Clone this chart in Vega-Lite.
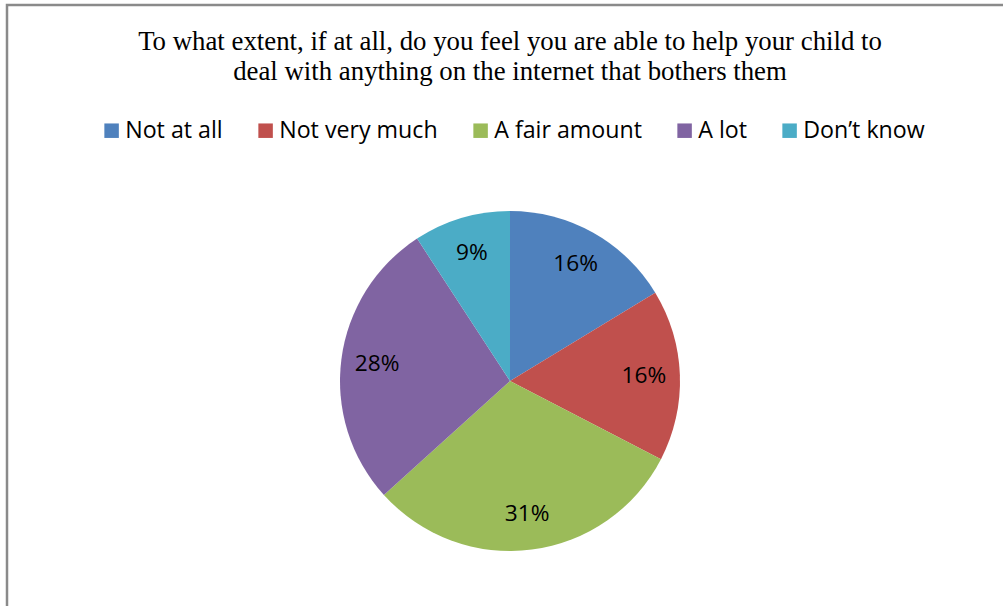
{
  "$schema": "https://vega.github.io/schema/vega-lite/v6.json",
  "width": 1006,
  "height": 752,
  "autosize": {"type": "none"},
  "padding": {"left": 7, "top": 5, "right": 0, "bottom": 0},
  "background": "white",
  "view": {"stroke": "#8a8a8a", "strokeWidth": 2.5, "fill": "white"},
  "title": {
    "text": ["To what extent, if at all, do you feel you are able to help your child to", "deal with anything on the internet that bothers them"],
    "font": "Liberation Serif",
    "fontSize": 26.8,
    "fontWeight": "normal",
    "color": "black",
    "lineHeight": 30,
    "anchor": "middle",
    "frame": "group",
    "offset": -81
  },
  "data": {
    "values": [
      {"idx": 1, "category": "Not at all", "value": 16.3, "label": "16%"},
      {"idx": 2, "category": "Not very much", "value": 16.3, "label": "16%"},
      {"idx": 3, "category": "A fair amount", "value": 30.7, "label": "31%"},
      {"idx": 4, "category": "A lot", "value": 27.5, "label": "28%"},
      {"idx": 5, "category": "Don’t know", "value": 9.2, "label": "9%"}
    ]
  },
  "encoding": {
    "theta": {"field": "value", "type": "quantitative", "stack": true},
    "order": {"field": "idx", "type": "quantitative"}
  },
  "layer": [
    {
      "mark": {"type": "arc", "outerRadius": 170},
      "encoding": {
        "color": {
          "field": "category",
          "type": "nominal",
          "scale": {
            "domain": ["Not at all", "Not very much", "A fair amount", "A lot", "Don’t know"],
            "range": ["#4F81BD", "#C0504D", "#9BBB59", "#8064A2", "#4BACC6"]
          },
          "legend": {
            "title": null,
            "orient": "none",
            "legendX": 93,
            "legendY": 114,
            "direction": "horizontal",
            "symbolType": "square",
            "symbolSize": 210,
            "symbolStrokeWidth": 0,
            "symbolOpacity": 1,
            "labelOffset": 2,
            "columnPadding": 31,
            "padding": 0,
            "labelFont": "Open Sans",
            "labelFontSize": 23.2,
            "labelColor": "black",
            "labelLimit": 0
          }
        }
      }
    },
    {
      "mark": {"type": "text", "radius": 134, "font": "Open Sans", "fontSize": 22.7, "color": "black"},
      "encoding": {
        "text": {"field": "label", "type": "nominal"}
      }
    }
  ]
}
